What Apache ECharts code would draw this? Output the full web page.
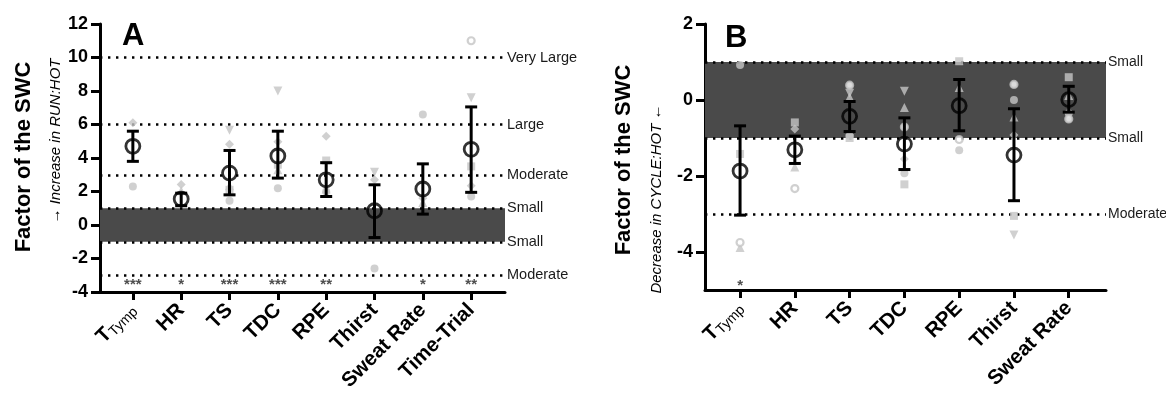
<!DOCTYPE html>
<html><head><meta charset="utf-8">
<script src="https://cdn.jsdelivr.net/npm/echarts@6/dist/echarts.min.js"></script>
<style>html,body{margin:0;padding:0;background:#fff}#c{width:1166px;height:395px}</style>
</head><body><div id="c"></div>
<script>
// ---------- DATA ----------
const catsA = ['TTymp','HR','TS','TDC','RPE','Thirst','Sweat Rate','Time-Trial'];
const catsB = ['TTymp','HR','TS','TDC','RPE','Thirst','Sweat Rate'];
const yTicksA = [-4,-2,0,2,4,6,8,10,12];
const yTicksB = [-4,-2,0,2];

const meanA = [4.7, 1.55, 3.1, 4.12, 2.7, 0.85, 2.15, 4.52];
const loA   = [3.8, 1.15, 1.8, 2.8, 1.7, -0.75, 0.65, 1.95];
const hiA   = [5.6, 1.9, 4.45, 5.6, 3.72, 2.4, 3.65, 7.05];
const sigA  = ['***','*','***','***','**','','*','**'];

const meanB = [-1.87, -1.31, -0.43, -1.16, -0.15, -1.45, 0.01];
const loB   = [-3.03, -1.67, -0.83, -1.83, -0.81, -2.65, -0.32];
const hiB   = [-0.68, -0.95, -0.04, -0.47, 0.54, -0.23, 0.36];
const sigB  = ['*','','','','','',''];

// individual participants (grey markers), one array per marker shape
const circA    = [2.3, null, 1.45, 2.2, 2.0, -2.6, 6.6, 1.7];
const diamA    = [6.1, 2.42, 4.82, 4.97, 5.3, 2.7, 1.6, 2.35];
const triDnA   = [null, null, 5.65, 8.0, null, 3.15, null, 7.6];
const triUpA   = [null, 2.05, 2.35, 3.3, 2.15, null, 1.35, null];
const sqA      = [null, null, 2.1, 3.6, 3.85, null, null, 3.5];
const openA    = [null, null, null, null, null, null, null, 11.0];

const circB    = [0.92, null, -0.95, -1.93, -1.32, 0.0, -0.35];
const diamB    = [null, -0.76, null, -1.55, null, -0.92, null];
const triDnB   = [null, null, 0.18, 0.23, null, -3.55, null];
const triUpB   = [-3.88, -1.76, 0.08, -0.2, 0.33, -0.45, 0.12];
const sqB      = [-1.42, -0.59, -1.0, -2.22, 1.02, -3.05, 0.6];
const openB    = [-3.75, -2.33, 0.39, -0.71, -1.04, 0.41, -0.5];

// reference lines
const refA = [[10,'Very Large'],[6,'Large'],[3,'Moderate'],[1,'Small'],[-1,'Small'],[-3,'Moderate']];
const refB = [[1,'Small'],[-1,'Small'],[-3,'Moderate']];

// ---------- CHART ----------
const FONT = "'Liberation Sans', Arial, sans-serif";
const GREY = '#c4c4c4';
const chart = echarts.init(document.getElementById('c'), null, {renderer:'canvas'});

function pts(arr){ const o=[]; arr.forEach((v,i)=>{ if(v!==null) o.push([i+1,v]); }); return o; }
function idx(n){ return Array.from({length:n},(_,i)=>i+1); }

function catLabel(cats){
  return function(v){
    const name = cats[Math.round(v)-1];
    if(!name) return '';
    if(name==='TTymp') return '{b|T}{s|Tymp}';
    return '{b|'+name+'}';
  };
}

function xAxis(gi, cats, min, max){
  return {
    type:'value', gridIndex:gi, min:min, max:max,
    axisLine:{show:true, onZero:false, lineStyle:{color:'#000', width:3}},
    axisTick:{show:true, customValues: idx(cats.length), length:8, lineStyle:{color:'#000', width:3}},
    axisLabel:{customValues: idx(cats.length), rotate:45, margin:15, formatter:catLabel(cats),
      rich:{ b:{fontFamily:FONT, fontWeight:'bold', fontSize:20.5, color:'#000'},
             s:{fontFamily:FONT, fontSize:14, color:'#000', padding:[8,0,0,0]} } },
    splitLine:{show:false}
  };
}
function yAxis(gi, min, max, ticks){
  return {
    type:'value', gridIndex:gi, min:min, max:max,
    axisLine:{show:true, lineStyle:{color:'#000', width:3}},
    axisTick:{show:true, customValues: ticks, length:9, lineStyle:{color:'#000', width:3}},
    axisLabel:{customValues: ticks, margin:12, fontFamily:FONT, fontWeight:'bold', fontSize:18, color:'#000'},
    splitLine:{show:false}
  };
}

function errSeries(gi, mean, lo, hi){
  const data = mean.map((m,i)=>[i+1, lo[i], hi[i]]);
  return {
    type:'custom', xAxisIndex:gi, yAxisIndex:gi, z:10, data:data,
    encode:{x:0, y:[1,2]},
    renderItem:function(params, api){
      const x = api.value(0);
      const t = api.coord([x, api.value(2)]);
      const b = api.coord([x, api.value(1)]);
      const hw = 6, st = {stroke:'#000', lineWidth:3};
      return {type:'group', children:[
        {type:'line', shape:{x1:t[0],y1:t[1],x2:b[0],y2:b[1]}, style:st},
        {type:'line', shape:{x1:t[0]-hw,y1:t[1],x2:t[0]+hw,y2:t[1]}, style:st},
        {type:'line', shape:{x1:b[0]-hw,y1:b[1],x2:b[0]+hw,y2:b[1]}, style:st}
      ]};
    }
  };
}
function meanSeries(gi, mean){
  return {type:'scatter', xAxisIndex:gi, yAxisIndex:gi, z:11, symbol:'circle', symbolSize:14,
    itemStyle:{color:'rgba(0,0,0,0)', borderColor:'#000', borderWidth:2.8},
    data: mean.map((m,i)=>[i+1,m]), silent:true};
}
function greySeries(gi, arr, symbol, size, rot, empty){
  return {type:'scatter', xAxisIndex:gi, yAxisIndex:gi, z:5, symbol:symbol, symbolSize:size,
    symbolRotate: rot||0,
    itemStyle: empty ? {color:'#fff', borderColor:GREY, borderWidth:2.2} : {color:GREY},
    data: pts(arr), silent:true};
}
function refSeries(gi, refs, fs){
  return {type:'line', xAxisIndex:gi, yAxisIndex:gi, data:[], z:3, silent:true,
    markArea:{silent:true, itemStyle:{color:'#4a4a4a'}, data:[[{yAxis:-1},{yAxis:1}]]},
    markLine:{silent:true, symbol:'none', animation:false,
      lineStyle:{color:'#000', width:2.6, type:[2.4,5.6]},
      label:{show:true, position:'end', distance:2, fontFamily:FONT, fontSize:fs, color:'#1a1a1a'},
      data: refs.map(r=>({yAxis:r[0], label:{formatter:r[1]}}))}
  };
}
function sigSeries(gi, sig, yPos){
  return {type:'scatter', xAxisIndex:gi, yAxisIndex:gi, z:12, symbolSize:1, silent:true,
    itemStyle:{color:'rgba(0,0,0,0)'},
    label:{show:true, position:'inside', fontFamily:FONT, fontSize:15, fontWeight:'bold', color:'#222',
      formatter:function(p){ return sig[p.dataIndex]; }},
    data: sig.map((s,i)=>[i+1, yPos])};
}

const option = {
  animation:false,
  backgroundColor:'#fff',
  grid:[
    {left:100, top:24, width:405, height:268},
    {left:705, top:24, width:401, height:266}
  ],
  xAxis:[ xAxis(0, catsA, 0.32, 8.7), xAxis(1, catsB, 0.36, 7.68) ],
  yAxis:[ yAxis(0, -4, 12, yTicksA), yAxis(1, -5, 2, yTicksB) ],
  series:[
    refSeries(0, refA, 14.5),
    greySeries(0, circA, 'circle', 8),
    greySeries(0, diamA, 'diamond', 9),
    greySeries(0, triDnA, 'triangle', 9, 180),
    greySeries(0, triUpA, 'triangle', 9),
    greySeries(0, sqA, 'rect', 8),
    greySeries(0, openA, 'circle', 7, 0, true),
    errSeries(0, meanA, loA, hiA),
    meanSeries(0, meanA),
    sigSeries(0, sigA, -3.55),

    refSeries(1, refB, 14),
    greySeries(1, circB, 'circle', 8),
    greySeries(1, diamB, 'diamond', 9),
    greySeries(1, triDnB, 'triangle', 9, 180),
    greySeries(1, triUpB, 'triangle', 9),
    greySeries(1, sqB, 'rect', 8),
    greySeries(1, openB, 'circle', 7, 0, true),
    errSeries(1, meanB, loB, hiB),
    meanSeries(1, meanB),
    sigSeries(1, sigB, -4.9)
  ],
  graphic:[
    {type:'text', x:24, y:157, rotation:Math.PI/2,
      style:{text:'Factor of the SWC', fontFamily:FONT, fontWeight:'bold', fontSize:22, fill:'#000', align:'center', verticalAlign:'middle'}},
    {type:'text', x:56, y:141, rotation:Math.PI/2,
      style:{text:'\u2192 Increase in RUN:HOT', fontFamily:FONT, fontStyle:'italic', fontSize:15, fill:'#000', align:'center', verticalAlign:'middle'}},
    {type:'text', x:122, y:52,
      style:{text:'A', fontFamily:FONT, fontWeight:'bold', fontSize:31, fill:'#000', align:'left', verticalAlign:'bottom'}},
    {type:'text', x:624, y:160, rotation:Math.PI/2,
      style:{text:'Factor of the SWC', fontFamily:FONT, fontWeight:'bold', fontSize:22, fill:'#000', align:'center', verticalAlign:'middle'}},
    {type:'text', x:657, y:199, rotation:Math.PI/2,
      style:{text:'Decrease in CYCLE:HOT \u2190', fontFamily:FONT, fontStyle:'italic', fontSize:15, fill:'#000', align:'center', verticalAlign:'middle'}},
    {type:'text', x:725, y:54,
      style:{text:'B', fontFamily:FONT, fontWeight:'bold', fontSize:31, fill:'#000', align:'left', verticalAlign:'bottom'}}
  ]
};
chart.setOption(option);
</script>
</body></html>
